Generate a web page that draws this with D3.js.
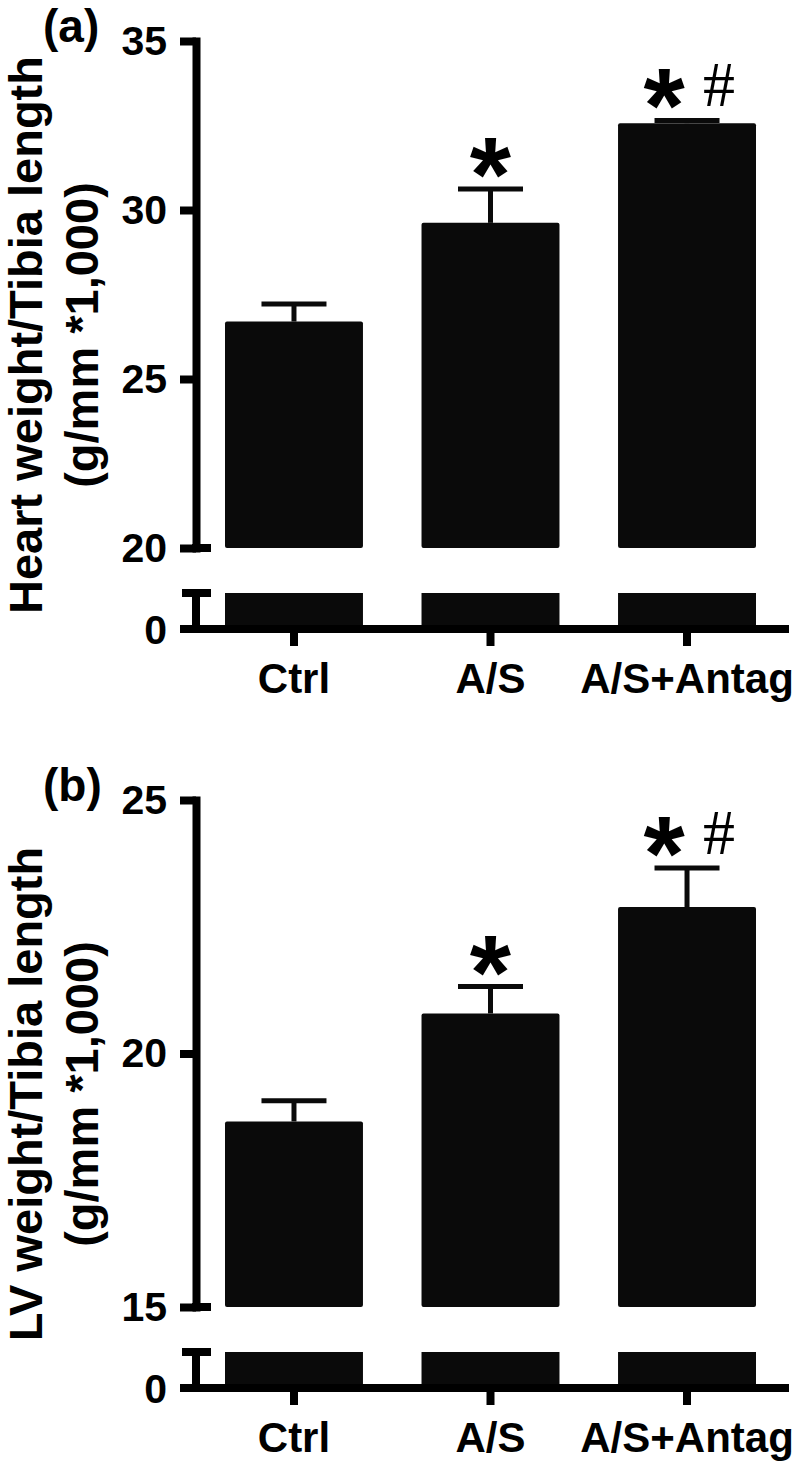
<!DOCTYPE html>
<html>
<head>
<meta charset="utf-8">
<script src="https://cdnjs.cloudflare.com/ajax/libs/d3/7.8.5/d3.min.js"></script>
<style>
  body { margin: 0; background: #fff; }
  text { font-family: "Liberation Sans", Arial, sans-serif; font-weight: bold; fill: #000; }
</style>
</head>
<body>
<div id="chart"></div>
<script>
const groups = ["Ctrl", "A/S", "A/S+Antag"];

const heartMeans = [26.70, 29.62, 32.57];
const heartSem = [0.52, 1.00, 0.08];
const heartTicks = [20, 25, 30, 35];

const lvMeans = [18.66, 20.79, 22.89];
const lvSem = [0.41, 0.53, 0.77];
const lvTicks = [15, 20, 25];

const starMarks = ["", "*", "*"];
const hashMarks = ["", "", "#"];

const width = 799, height = 1465;
const axisX = 196,
    yTop = 41,
    yBreak = 548,
    yStub = 593,
    yZero = 629;
const barColor = '#0a0a0a';

const svg = d3.select('#chart').append('svg')
    .attr('width', width)
    .attr('height', height);

const panels = [
    { label: '(a)', title1: 'Heart weight/Tibia length', title2: '(g/mm *1,000)', means: heartMeans, sem: heartSem, ticks: heartTicks, top: 0 },
    { label: '(b)', title1: 'LV weight/Tibia length', title2: '(g/mm *1,000)', means: lvMeans, sem: lvSem, ticks: lvTicks, top: 759 }
];

panels.forEach(drawPanel);

function drawPanel(p) {
    const g = svg.append('g').attr('transform', 'translate(0,' + p.top + ')');
    const base = p.ticks[0];

    const x = d3.scaleBand().domain(groups).range([225, 756]).paddingInner(0.298).paddingOuter(0);
    const y = d3.scaleLinear().domain(d3.extent(p.ticks)).range([yBreak, yTop]);
    // lower stub below the axis break
    const yLow = d3.scaleLinear().domain([0, base]).range([yZero, yStub]);

    const data = groups.map((k, i) => ({ k: k, m: p.means[i], s: p.sem[i], star: starMarks[i], hash: hashMarks[i] }));

    // bars, upper part
    g.selectAll('.bar').data(data).enter().append('rect')
        .attr('x', d => x(d.k))
        .attr('y', d => y(d.m))
        .attr('width', x.bandwidth())
        .attr('height', d => y(base) - y(d.m))
        .attr('rx', 2)
        .attr('fill', barColor);
    // bars, lower stub
    g.selectAll('.stub').data(data).enter().append('rect')
        .attr('x', d => x(d.k))
        .attr('y', yLow(base))
        .attr('width', x.bandwidth())
        .attr('height', yLow(0) - yLow(base))
        .attr('fill', barColor);

    // error bars
    const cx = d => x(d.k) + x.bandwidth() / 2;
    g.selectAll('.stem').data(data).enter().append('line')
        .attr('x1', cx).attr('x2', cx)
        .attr('y1', d => y(d.m)).attr('y2', d => y(d.m + d.s))
        .attr('stroke', barColor).attr('stroke-width', 5);
    g.selectAll('.cap').data(data).enter().append('line')
        .attr('x1', d => cx(d) - 32.5).attr('x2', d => cx(d) + 32.5)
        .attr('y1', d => y(d.m + d.s)).attr('y2', d => y(d.m + d.s))
        .attr('stroke', barColor).attr('stroke-width', 5);

    // significance marks
    g.selectAll('.star').data(data.filter(d => d.star)).enter().append('text')
        .attr('x', d => d.hash ? cx(d) - 23 : cx(d))
        .attr('y', d => y(d.m + d.s) + 22)
        .attr('text-anchor', 'middle')
        .style('font-size', '106px')
        .text(d => d.star);
    g.selectAll('.hash').data(data.filter(d => d.hash)).enter().append('text')
        .attr('x', d => cx(d) + 32)
        .attr('y', d => y(d.m + d.s) - 14)
        .attr('text-anchor', 'middle')
        .style('font-family', '"Liberation Serif", "Times New Roman", serif')
        .style('font-weight', 'normal')
        .style('font-size', '64px')
        .text(d => d.hash);

    // y axis (upper)
    const ax = g.append('g')
        .attr('transform', 'translate(' + axisX + ',0)')
        .call(d3.axisLeft(y).tickValues(p.ticks).tickSize(16).tickSizeOuter(0).tickPadding(13));
    ax.select('.domain').attr('stroke', '#000').attr('stroke-width', 8).attr('stroke-linecap', 'square');
    ax.selectAll('.tick line').attr('stroke', '#000').attr('stroke-width', 8);
    ax.selectAll('.tick text').style('font-size', '41px').style('font-family', '"Liberation Sans", Arial, sans-serif').style('font-weight', 'bold');
    // bottom tick extends to the right too
    g.append('line')
        .attr('x1', axisX - 4).attr('x2', 211)
        .attr('y1', y(base)).attr('y2', y(base))
        .attr('stroke', '#000').attr('stroke-width', 8);

    // y axis (lower stub)
    g.append('line')
        .attr('x1', axisX).attr('x2', axisX)
        .attr('y1', yLow(base)).attr('y2', yLow(0))
        .attr('stroke', '#000').attr('stroke-width', 8);
    g.append('line')
        .attr('x1', 182).attr('x2', 211)
        .attr('y1', yLow(base)).attr('y2', yLow(base))
        .attr('stroke', '#000').attr('stroke-width', 8);
    g.append('text')
        .attr('x', 167).attr('y', yLow(0))
        .attr('dy', '0.36em')
        .attr('text-anchor', 'end')
        .style('font-size', '41px')
        .text('0');

    // x axis
    g.append('line')
        .attr('x1', 180).attr('x2', 789)
        .attr('y1', yZero).attr('y2', yZero)
        .attr('stroke', '#000').attr('stroke-width', 8);
    const xa = g.append('g')
        .attr('transform', 'translate(0,' + yZero + ')')
        .call(d3.axisBottom(x).tickSize(17).tickSizeOuter(0).tickPadding(17));
    xa.select('.domain').remove();
    xa.selectAll('.tick line').attr('stroke', '#000').attr('stroke-width', 8);
    xa.selectAll('.tick text').style('font-size', '42px').style('font-family', '"Liberation Sans", Arial, sans-serif').style('font-weight', 'bold');

    // y title
    const mid = (yTop + yZero) / 2;
    g.append('text')
        .attr('transform', 'translate(42,' + mid + ') rotate(-90)')
        .attr('text-anchor', 'middle')
        .style('font-size', '47px')
        .text(p.title1);
    g.append('text')
        .attr('transform', 'translate(98,' + mid + ') rotate(-90)')
        .attr('text-anchor', 'middle')
        .style('font-size', '47px')
        .text(p.title2);

    // panel label
    g.append('text')
        .attr('x', 43).attr('y', 42)
        .style('font-size', '46px')
        .text(p.label);
}
</script>
</body>
</html>
